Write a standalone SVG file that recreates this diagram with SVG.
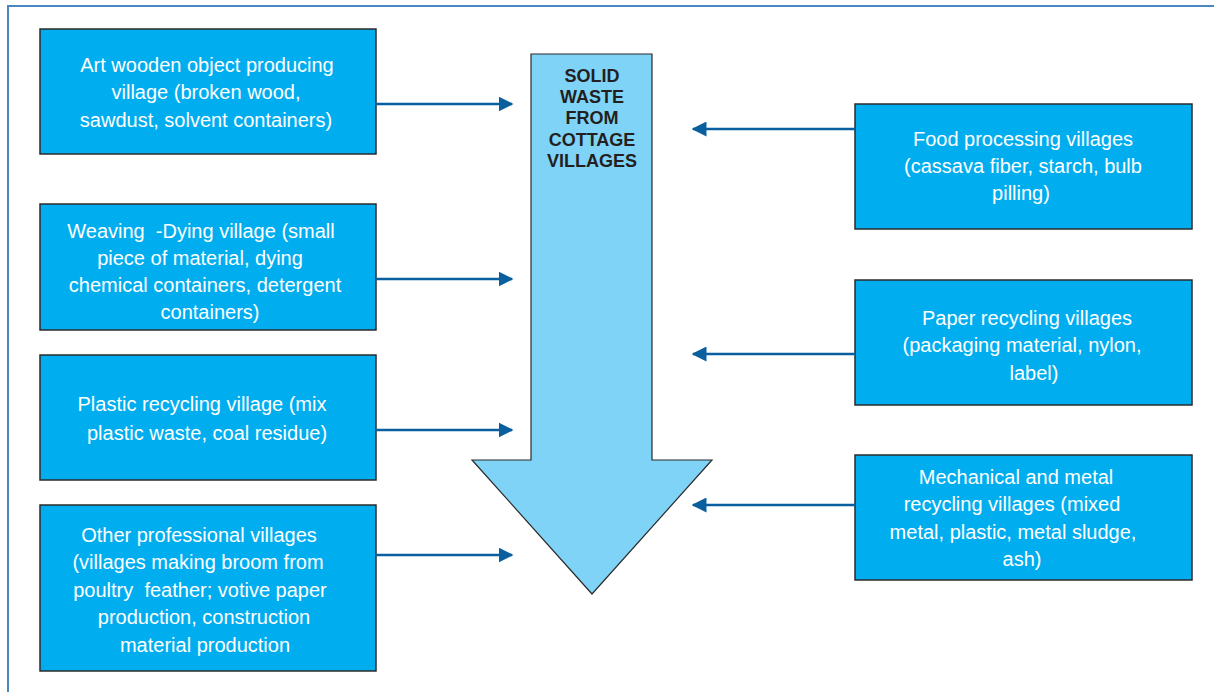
<svg xmlns="http://www.w3.org/2000/svg" width="1214" height="692" viewBox="0 0 1214 692">
<style>
.box{fill:#00aeef;stroke:#2b2b2b;stroke-width:1.5}
.t{font-family:"Liberation Sans",Arial,sans-serif;font-size:20px;fill:#ffffff;text-anchor:middle}
.c{font-family:"Liberation Sans",Arial,sans-serif;font-size:18px;font-weight:bold;fill:#231f20;text-anchor:middle}
.ln{stroke:#0a5f9f;stroke-width:2.5;fill:none}
.frame{stroke:#4a86c0;stroke-width:2;fill:none}
</style>
<defs>
<marker id="ah" viewBox="0 0 10 10" refX="9" refY="5" markerWidth="6" markerHeight="6" orient="auto" markerUnits="strokeWidth">
<path d="M0,0 L10,5 L0,10 Z" fill="#0a5f9f"/>
</marker>
</defs>
<rect width="1214" height="692" fill="#ffffff"/>
<path class="frame" d="M8,692 L8,6 L1214,6"/>

<g id="center-arrow">
<path d="M531,54 L652,54 L652,460 L712,460 L592,594 L472,460 L531,460 Z" fill="#7fd3f7" stroke="#2b2b2b" stroke-width="1.2"/>
<text class="c" x="592" y="82">SOLID</text>
<text class="c" x="592" y="103">WASTE</text>
<text class="c" x="592" y="124">FROM</text>
<text class="c" x="592" y="146">COTTAGE</text>
<text class="c" x="592" y="167">VILLAGES</text>
</g>

<g id="art-wooden">
<rect class="box" x="40" y="29" width="336" height="125"/>
<text class="t" x="207" y="72">Art wooden object producing</text>
<text class="t" x="206" y="99">village (broken wood,</text>
<text class="t" x="206" y="127">sawdust, solvent containers)</text>
</g>

<g id="weaving">
<rect class="box" x="40" y="204" width="336" height="126"/>
<text class="t" x="201" y="238" xml:space="preserve">Weaving  -Dying village (small</text>
<text class="t" x="200" y="265">piece of material, dying</text>
<text class="t" x="205" y="292">chemical containers, detergent</text>
<text class="t" x="210" y="319">containers)</text>
</g>

<g id="plastic">
<rect class="box" x="40" y="355" width="336" height="125"/>
<text class="t" x="202" y="411">Plastic recycling village (mix</text>
<text class="t" x="207" y="440">plastic waste, coal residue)</text>
</g>

<g id="other">
<rect class="box" x="40" y="505" width="336" height="166"/>
<text class="t" x="199" y="542">Other professional villages</text>
<text class="t" x="198" y="569">(villages making broom from</text>
<text class="t" x="200" y="597" xml:space="preserve">poultry  feather; votive paper</text>
<text class="t" x="204" y="624">production, construction</text>
<text class="t" x="205" y="652">material production</text>
</g>

<g id="food">
<rect class="box" x="855" y="104" width="337" height="125"/>
<text class="t" x="1023" y="146">Food processing villages</text>
<text class="t" x="1023" y="173">(cassava fiber, starch, bulb</text>
<text class="t" x="1021" y="200">pilling)</text>
</g>

<g id="paper">
<rect class="box" x="855" y="280" width="337" height="125"/>
<text class="t" x="1027" y="325">Paper recycling villages</text>
<text class="t" x="1022" y="352">(packaging material, nylon,</text>
<text class="t" x="1034" y="380">label)</text>
</g>

<g id="mechanical">
<rect class="box" x="855" y="455" width="337" height="125"/>
<text class="t" x="1016" y="484">Mechanical and metal</text>
<text class="t" x="1012" y="511">recycling villages (mixed</text>
<text class="t" x="1013" y="539">metal, plastic, metal sludge,</text>
<text class="t" x="1022" y="566">ash)</text>
</g>

<g id="connectors">
<line class="ln" x1="376" y1="104" x2="512" y2="104" marker-end="url(#ah)"/>
<line class="ln" x1="376" y1="279" x2="512" y2="279" marker-end="url(#ah)"/>
<line class="ln" x1="376" y1="430" x2="512" y2="430" marker-end="url(#ah)"/>
<line class="ln" x1="376" y1="555" x2="512" y2="555" marker-end="url(#ah)"/>
<line class="ln" x1="855" y1="129" x2="693" y2="129" marker-end="url(#ah)"/>
<line class="ln" x1="855" y1="354" x2="693" y2="354" marker-end="url(#ah)"/>
<line class="ln" x1="855" y1="505" x2="693" y2="505" marker-end="url(#ah)"/>
</g>
</svg>
